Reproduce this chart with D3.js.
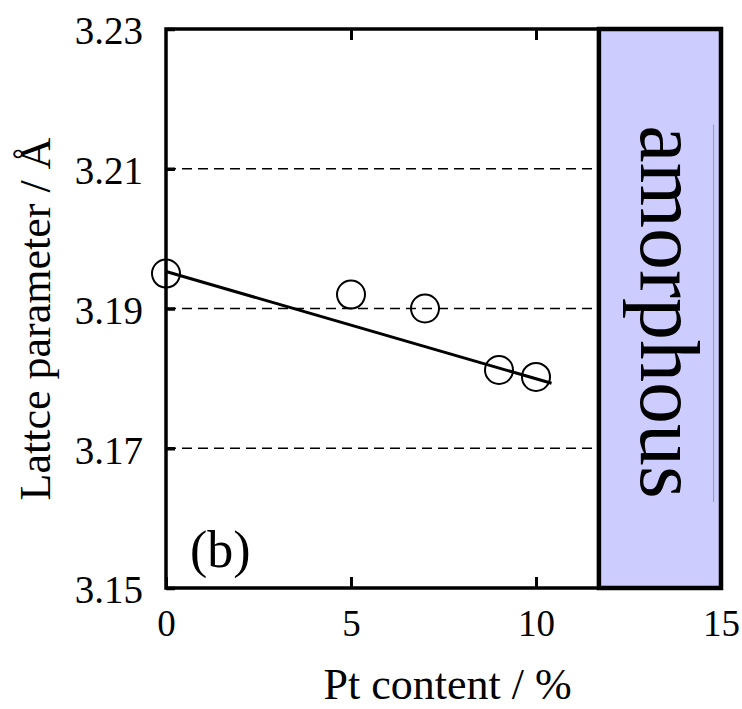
<!DOCTYPE html>
<html>
<head>
<meta charset="UTF-8">
<title>Lattice parameter vs Pt content</title>
<script src="https://d3js.org/d3.v7.min.js"></script>
<style>
  body { margin: 0; background: #fff; }
  text { font-family: "Liberation Serif", "Times New Roman", serif; fill: #000; }
</style>
</head>
<body>
<script>
// data
var ptContent = [0, 5, 7, 9, 10];
var latticeParam = [3.195, 3.192, 3.190, 3.1812, 3.1802];
var fitX = [0, 10.42];
var fitY = [3.1953, 3.1793];
var amorphousFrom = 11.7;
var xTicks = [0, 5, 10, 15];
var yTicks = [3.15, 3.17, 3.19, 3.21, 3.23];
var gridValues = [3.17, 3.19, 3.21];

var width = 742, height = 709;
// note: "top" is taken by window.top, so prefix these
var plotLeft = 166, plotRight = 721, plotTop = 29, plotBottom = 588;

var svg = d3.select("body").append("svg")
  .attr("width", width)
  .attr("height", height);

var x = d3.scaleLinear().domain([0, 15]).range([plotLeft, plotRight]);
var y = d3.scaleLinear().domain([3.15, 3.23]).range([plotBottom, plotTop]);

// amorphous region
svg.append("rect")
  .attr("x", x(amorphousFrom))
  .attr("y", y(3.23))
  .attr("width", x(15) - x(amorphousFrom))
  .attr("height", y(3.15) - y(3.23))
  .attr("fill", "#ccccff");

// faint line inside the box
svg.append("line")
  .attr("x1", x(14.8)).attr("x2", x(14.8))
  .attr("y1", y(3.2163)).attr("y2", y(3.1623))
  .attr("stroke", "#7fa88a")
  .attr("stroke-width", 1);

svg.append("text")
  .attr("transform", "translate(" + (x(amorphousFrom) + 42) + ",312) rotate(90)")
  .attr("text-anchor", "middle")
  .style("font-size", "84px")
  .text("amorphous");

// dashed grid
svg.selectAll(".grid")
  .data(gridValues)
  .enter()
  .append("line")
  .attr("x1", x(0))
  .attr("x2", x(amorphousFrom))
  .attr("y1", d => y(d))
  .attr("y2", d => y(d))
  .attr("stroke", "#000")
  .attr("stroke-width", 1.6)
  .attr("stroke-dasharray", "10,6");

// axes (ticks inward)
var xAxis = svg.append("g")
  .attr("transform", "translate(0," + plotBottom + ")")
  .call(d3.axisBottom(x).tickValues(xTicks).tickSizeInner(-11).tickSizeOuter(0).tickPadding(22).tickFormat(d3.format("d")));
xAxis.select(".domain").remove();
xAxis.selectAll("line").attr("stroke-width", 3);
xAxis.selectAll("text").style("font-size", "37px").attr("fill", "#000");

var topAxis = svg.append("g")
  .attr("transform", "translate(0," + plotTop + ")")
  .call(d3.axisTop(x).tickValues([5, 10]).tickSizeInner(-11).tickSizeOuter(0).tickFormat(""));
topAxis.select(".domain").remove();
topAxis.selectAll("line").attr("stroke-width", 3);

var yAxis = svg.append("g")
  .attr("transform", "translate(" + plotLeft + ",0)")
  .call(d3.axisLeft(y).tickValues(yTicks).tickSizeInner(-9).tickSizeOuter(0).tickPadding(23).tickFormat(d3.format(".2f")));
yAxis.select(".domain").remove();
yAxis.selectAll("line").attr("stroke-width", 3.5);
yAxis.selectAll("text").style("font-size", "39px").attr("fill", "#000").attr("dy", "0.38em");

// frames
svg.append("rect")
  .attr("x", plotLeft).attr("y", plotTop)
  .attr("width", plotRight - plotLeft).attr("height", plotBottom - plotTop)
  .attr("fill", "none")
  .attr("stroke", "#000")
  .attr("stroke-width", 3.5);

svg.append("rect")
  .attr("x", x(amorphousFrom)).attr("y", plotTop)
  .attr("width", x(15) - x(amorphousFrom)).attr("height", plotBottom - plotTop)
  .attr("fill", "none")
  .attr("stroke", "#000")
  .attr("stroke-width", 4.5);

// fitted line
svg.append("path")
  .datum(d3.zip(fitX, fitY))
  .attr("d", d3.line().x(d => x(d[0])).y(d => y(d[1])))
  .attr("fill", "none")
  .attr("stroke", "#000")
  .attr("stroke-width", 3);

// points
svg.selectAll(".pt")
  .data(d3.zip(ptContent, latticeParam))
  .enter()
  .append("circle")
  .attr("cx", d => x(d[0]))
  .attr("cy", d => y(d[1]))
  .attr("r", 14)
  .attr("fill", "none")
  .attr("stroke", "#000")
  .attr("stroke-width", 2);

// labels
svg.append("text")
  .attr("x", 190).attr("y", 567)
  .style("font-size", "52px")
  .text("(b)");

svg.append("text")
  .attr("x", (plotLeft + plotRight) / 2 + 4).attr("y", 699)
  .attr("text-anchor", "middle")
  .style("font-size", "44px")
  .text("Pt content / %");

svg.append("text")
  .attr("transform", "translate(50," + 319 + ") rotate(-90)")
  .attr("text-anchor", "middle")
  .style("font-size", "44px")
  .text("Lattce parameter / Å");
</script>
</body>
</html>
